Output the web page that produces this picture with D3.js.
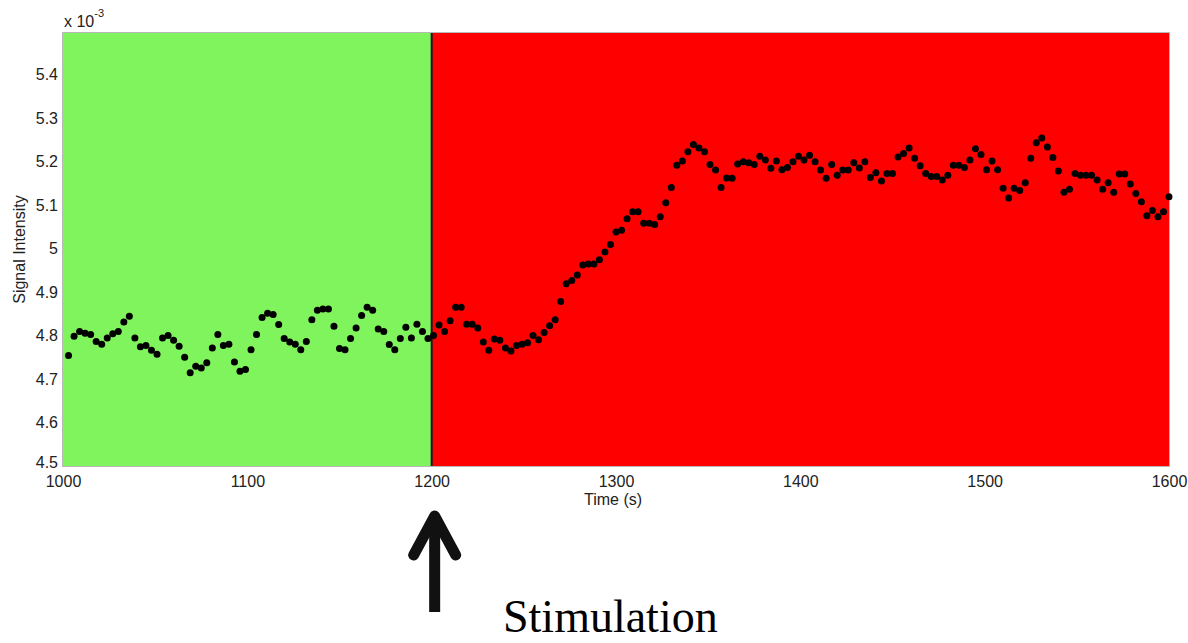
<!DOCTYPE html>
<html>
<head>
<meta charset="utf-8">
<script src="https://cdn.jsdelivr.net/npm/d3@7/dist/d3.min.js"></script>
<style>
  html, body { margin: 0; padding: 0; background: #fff; }
  svg { display: block; }
  .sans { font-family: "Liberation Sans", Arial, sans-serif; }
  .serif { font-family: "Liberation Serif", "Times New Roman", serif; }
</style>
</head>
<body>
<script>
// ---- data (signal intensity in units of 1e-3) ----
const times = [
1003,1006,1009,1012,1015,1018,1021,1024,1027,1030,1033,1036,1039,1042,1045,1048,1051,1054,1057,1060,
1063,1066,1069,1072,1075,1078,1081,1084,1087,1090,1093,1096,1099,1102,1105,1108,1111,1114,1117,1120,
1123,1126,1129,1132,1135,1138,1141,1144,1147,1150,1153,1156,1159,1162,1165,1168,1171,1174,1177,1180,
1183,1186,1189,1192,1195,1198,1201,1204,1207,1210,1213,1216,1219,1222,1225,1228,1231,1234,1237,1240,
1243,1246,1249,1252,1255,1258,1261,1264,1267,1270,1273,1276,1279,1282,1285,1288,1291,1294,1297,1300,
1303,1306,1309,1312,1315,1318,1321,1324,1327,1330,1333,1336,1339,1342,1345,1348,1351,1354,1357,1360,
1363,1366,1369,1372,1375,1378,1381,1384,1387,1390,1393,1396,1399,1402,1405,1408,1411,1414,1417,1420,
1423,1426,1429,1432,1435,1438,1441,1444,1447,1450,1453,1456,1459,1462,1465,1468,1471,1474,1477,1480,
1483,1486,1489,1492,1495,1498,1501,1504,1507,1510,1513,1516,1519,1522,1525,1528,1531,1534,1537,1540,
1543,1546,1549,1552,1555,1558,1561,1564,1567,1570,1573,1576,1579,1582,1585,1588,1591,1594,1597,1600
];
const signal = [
4.754,4.798,4.809,4.805,4.802,4.786,4.780,4.794,4.804,4.809,4.831,4.844,4.794,4.774,4.777,4.766,4.757,4.794,4.800,4.789,
4.775,4.750,4.714,4.729,4.725,4.737,4.771,4.802,4.777,4.780,4.739,4.718,4.722,4.767,4.802,4.841,4.851,4.848,4.825,4.793,
4.785,4.780,4.767,4.786,4.836,4.858,4.861,4.861,4.821,4.770,4.767,4.793,4.817,4.846,4.865,4.858,4.815,4.809,4.779,4.767,
4.793,4.819,4.794,4.826,4.809,4.793,4.800,4.824,4.809,4.834,4.865,4.865,4.826,4.826,4.817,4.785,4.766,4.792,4.789,4.771,
4.764,4.777,4.780,4.783,4.800,4.790,4.807,4.822,4.836,4.878,4.919,4.926,4.939,4.962,4.964,4.964,4.974,4.992,5.009,5.038,
5.042,5.068,5.084,5.084,5.058,5.058,5.055,5.073,5.105,5.140,5.191,5.201,5.222,5.239,5.231,5.222,5.193,5.180,5.140,5.162,
5.161,5.194,5.199,5.197,5.193,5.212,5.203,5.184,5.201,5.181,5.186,5.199,5.212,5.203,5.214,5.199,5.180,5.161,5.193,5.168,
5.180,5.180,5.197,5.185,5.199,5.163,5.174,5.155,5.172,5.172,5.210,5.218,5.231,5.207,5.190,5.172,5.165,5.165,5.157,5.168,
5.191,5.191,5.186,5.203,5.229,5.216,5.181,5.201,5.181,5.138,5.116,5.138,5.133,5.151,5.207,5.243,5.254,5.233,5.209,5.178,
5.129,5.136,5.172,5.168,5.168,5.168,5.157,5.136,5.151,5.129,5.171,5.171,5.148,5.126,5.107,5.075,5.087,5.073,5.084,5.119
];
const xTicks = [1000, 1100, 1200, 1300, 1400, 1500, 1600];
const yTicks = [4.5, 4.6, 4.7, 4.8, 4.9, 5.0, 5.1, 5.2, 5.3, 5.4];
const phases = [
  { label: "baseline", start: 1000, end: 1200, color: "#80f45c" },
  { label: "stimulation", start: 1200, end: 1600, color: "#ff0000" }
];
const stimTime = 1200;

// ---- layout ----
const W = 1188, H = 643;
const L = 63, R = 1169, T = 33, B = 466;

const svg = d3.select("body").append("svg").attr("width", W).attr("height", H);
svg.append("rect").attr("width", W).attr("height", H).attr("fill", "#fff");

const x = d3.scaleLinear().domain([1000, 1600]).range([L, R]);
const y = d3.scaleLinear().domain([4.5, 5.495]).range([B, T]);

// phase backgrounds
svg.selectAll("rect.phase").data(phases).enter().append("rect")
  .attr("class", "phase")
  .attr("x", d => x(d.start)).attr("y", T)
  .attr("width", d => x(d.end) - x(d.start)).attr("height", B - T)
  .attr("fill", d => d.color);

// axes frame
svg.append("rect").attr("x", L - 0.5).attr("y", T - 0.5)
  .attr("width", R - L + 1).attr("height", B - T + 1)
  .attr("fill", "none").attr("stroke", "#b8b8b8").attr("stroke-width", 1);

// stimulation line
svg.append("line")
  .attr("x1", x(stimTime)).attr("x2", x(stimTime))
  .attr("y1", T).attr("y2", B)
  .attr("stroke", "#1a1a1a").attr("stroke-width", 2);

// axes
const xAxis = d3.axisBottom(x).tickValues(xTicks).tickSize(0).tickPadding(0)
  .tickFormat(d3.format("d"));
const gx = svg.append("g").attr("transform", `translate(0,${B})`).call(xAxis);
gx.select(".domain").remove();
gx.selectAll("text").attr("class", "sans").attr("font-size", 16).attr("fill", "#222")
  .attr("dy", null).attr("y", 21);

const yAxis = d3.axisLeft(y).tickValues(yTicks).tickSize(0).tickPadding(5)
  .tickFormat(d => d3.format("")(+d.toFixed(1)));
const gy = svg.append("g").attr("transform", `translate(${L},0)`).call(yAxis);
gy.select(".domain").remove();
gy.selectAll("text").attr("class", "sans").attr("font-size", 16).attr("fill", "#222")
  .attr("dy", (d, i) => i === 0 ? "0.12em" : "0.34em");

// exponent label
const ex = svg.append("text").attr("class", "sans").attr("x", 64).attr("y", 27)
  .attr("font-size", 16).attr("fill", "#222");
ex.append("tspan").text("x 10");
ex.append("tspan").attr("font-size", 11).attr("dy", -10).text("-3");

// axis titles
svg.append("text").attr("class", "sans").attr("x", 613).attr("y", 505)
  .attr("text-anchor", "middle").attr("font-size", 16).attr("fill", "#222")
  .text("Time (s)");
svg.append("text").attr("class", "sans")
  .attr("transform", `translate(25,${(T + B) / 2}) rotate(-90)`)
  .attr("text-anchor", "middle").attr("font-size", 16).attr("fill", "#222")
  .text("Signal Intensity");

// data points
svg.append("g").selectAll("circle").data(signal).enter().append("circle")
  .attr("cx", (d, i) => x(times[i]))
  .attr("cy", d => y(d))
  .attr("r", 3.5)
  .attr("fill", "#000");

// arrow + label
const ax = x(stimTime) + 3;
const arrow = svg.append("g").attr("stroke", "#111").attr("stroke-width", 11)
  .attr("stroke-linecap", "round").attr("stroke-linejoin", "round").attr("fill", "none");
arrow.append("line").attr("x1", ax).attr("x2", ax).attr("y1", 518).attr("y2", 612)
  .attr("stroke-linecap", "butt");
arrow.append("polyline").attr("points", `${ax - 21},555 ${ax},516 ${ax + 21},555`);

svg.append("text").attr("class", "serif").attr("x", 503).attr("y", 632)
  .attr("font-size", 46).attr("fill", "#000")
  .text("Stimulation");
</script>
</body>
</html>
